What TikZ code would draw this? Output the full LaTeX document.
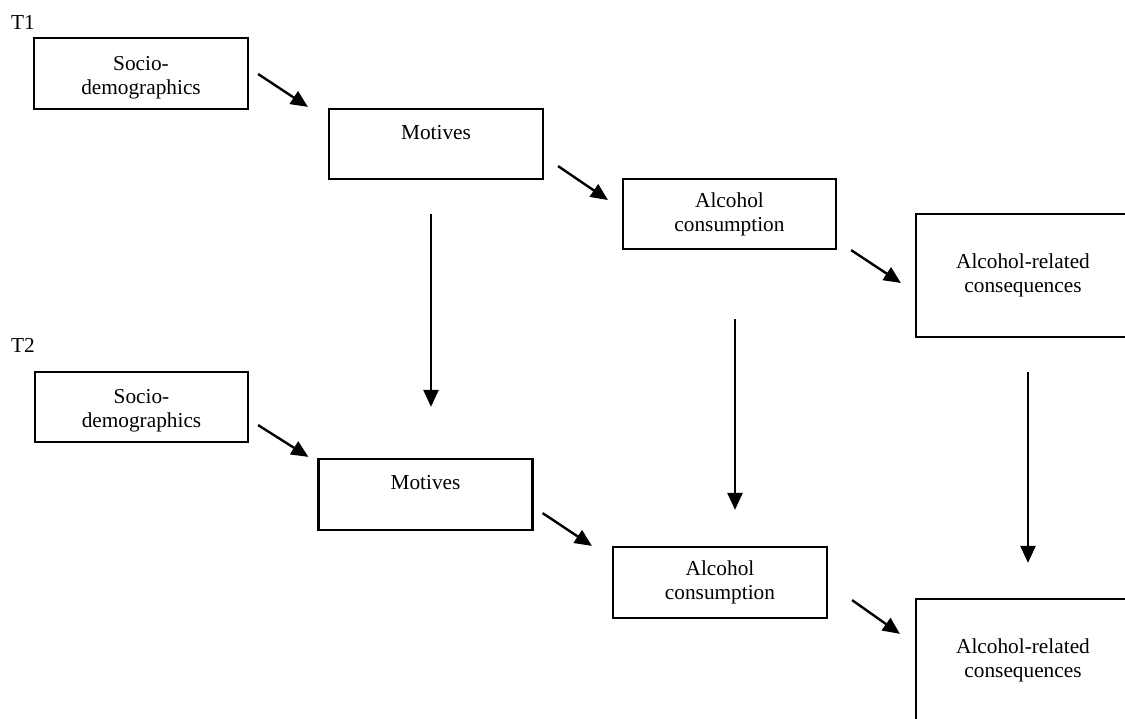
\documentclass[tikz,border=0pt]{standalone}
\usepackage{fontspec}
\setmainfont{Liberation Serif}
\usetikzlibrary{arrows.meta,calc}
\tikzset{
  box/.style={draw, line width=2.2pt, minimum width=214pt, minimum height=70pt, align=center, inner sep=0pt,
    font=\fontsize{21.3}{24}\selectfont},
  tall/.style={minimum height=123pt},
  conn/.style={line width=2.4pt, -{Triangle[length=17pt,width=15pt]}},
  tlabel/.style={font=\fontsize{21.3}{24}\selectfont, anchor=west, inner sep=0pt}
}
\begin{document}
\begin{tikzpicture}[x=1pt,y=-1pt]
\useasboundingbox (0,0) rectangle (1125,719);
\clip (0,0) rectangle (1125,719);
\fill[white] (0,0) rectangle (1125,719);
\node[tlabel] (t1) at (11,22.5) {T1};
\node[tlabel] (t2) at (11,345) {T2};
\node[box, minimum height=71pt] (s1) at (141,73.5) {\rule{0pt}{22pt}Socio-\\demographics};
\node[box] (m1) at (436,144) {Motives\\~};
\node[box, minimum width=213pt] (a1) at (729.5,214) {Alcohol\\consumption};
\node[box, tall] (c1) at (1023,275.5) {Alcohol-related\\consequences};
\node[box, minimum width=213pt] (s2) at (141.5,407) {\rule{0pt}{22pt}Socio-\\demographics};
\node[box, minimum height=71pt] (m2) at (425.5,494.5) {Motives\\~};
\node[box, minimum height=71pt] (a2) at (720,582.5) {Alcohol\\consumption};
\node[box, tall] (c2) at (1023,660.5) {Alcohol-related\\consequences};
% diagonal arrows
\draw[conn] ($(s1.east)+(9,0.5)$) -- ($(m1.north west)+(-20,-1)$);
\draw[conn] ($(m1.south east)+(14,-14)$) -- ($(a1.west)+(-14,-14)$);
\draw[conn] ($(a1.south east)+(14,0)$) -- ($(c1.west)+(-14,7.5)$);
\draw[conn] ($(s2.south east)+(9,-18)$) -- ($(m2.north west)+(-9,-1)$);
\draw[conn] ($(m2.south east)+(9,-18)$) -- ($(a2.north west)+(-20,0)$);
\draw[conn] ($(a2.south east)+(24,-19)$) -- ($(c2.north west)+(-15,36)$);
% vertical arrows
\draw[conn] ($(m1.south)+(-5,34)$) -- ($(m2.north)+(5.5,-51)$);
\draw[conn] ($(a1.south)+(5.5,69)$) -- ($(a2.north)+(15,-36)$);
\draw[conn] ($(c1.south)+(5,34)$) -- ($(c2.north)+(5,-35)$);
\end{tikzpicture}
\end{document}
